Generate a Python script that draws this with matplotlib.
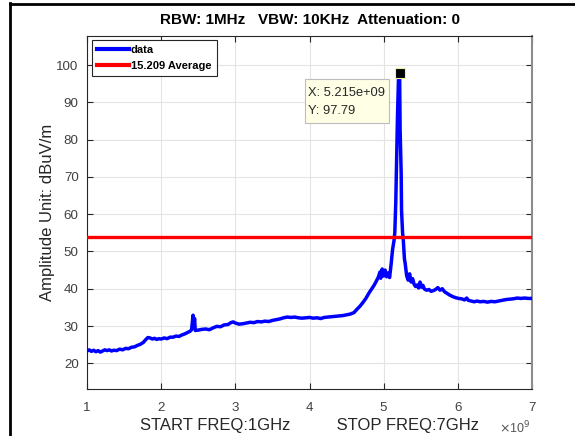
import matplotlib
matplotlib.use("Agg")
import matplotlib.pyplot as plt
from matplotlib.lines import Line2D
from matplotlib.patches import Rectangle

plt.rcParams['font.family'] = ['Liberation Sans', 'DejaVu Sans']

# ---- data (GHz, dBuV/m) ----
freq_ghz = [1.00, 1.03, 1.06, 1.09, 1.12, 1.15, 1.18, 1.21, 1.24, 1.27, 1.30, 1.33, 1.36, 1.40,
            1.44, 1.48, 1.52, 1.56, 1.60, 1.64, 1.68, 1.72, 1.76, 1.79, 1.82, 1.85, 1.88, 1.91,
            1.94, 1.97, 2.00, 2.04, 2.08, 2.12, 2.16, 2.20, 2.24, 2.28, 2.32, 2.36, 2.39, 2.41,
            2.43, 2.44, 2.45, 2.46, 2.50, 2.55, 2.60, 2.65, 2.70, 2.75, 2.80, 2.85, 2.90, 2.94,
            2.97, 3.00, 3.05, 3.10, 3.15, 3.20, 3.25, 3.30, 3.35, 3.40, 3.45, 3.50, 3.55, 3.60,
            3.65, 3.70, 3.75, 3.80, 3.85, 3.90, 3.95, 4.00, 4.05, 4.10, 4.15, 4.20, 4.25, 4.30,
            4.35, 4.40, 4.45, 4.50, 4.55, 4.60, 4.64, 4.68, 4.72, 4.76, 4.80, 4.84, 4.87, 4.90,
            4.93, 4.95, 4.96, 4.98, 5.00, 5.02, 5.04, 5.06, 5.08, 5.10, 5.12, 5.14, 5.15, 5.163,
            5.173, 5.186, 5.20, 5.215, 5.222, 5.236, 5.241, 5.255, 5.265, 5.28, 5.29, 5.31, 5.33,
            5.35, 5.37, 5.39, 5.41, 5.43, 5.45, 5.47, 5.49, 5.51, 5.53, 5.55, 5.58, 5.61, 5.64,
            5.67, 5.70, 5.73, 5.76, 5.79, 5.82, 5.85, 5.89, 5.93, 5.97, 6.01, 6.05, 6.09, 6.12,
            6.14, 6.18, 6.22, 6.26, 6.30, 6.35, 6.40, 6.45, 6.50, 6.55, 6.60, 6.65, 6.70, 6.75,
            6.80, 6.85, 6.90, 6.95, 7.00]
amplitude = [23.3, 23.6, 23.2, 23.5, 23.1, 23.4, 23.0, 23.3, 23.6, 23.4, 23.6, 23.3, 23.5, 23.4,
             23.8, 23.6, 24.0, 23.9, 24.3, 24.4, 24.8, 25.1, 25.6, 26.3, 26.9, 26.8, 26.5, 26.7,
             26.4, 26.6, 26.5, 26.8, 26.6, 27.0, 27.0, 27.3, 27.2, 27.6, 27.9, 28.3, 28.6, 29.0,
             32.9, 29.5, 32.0, 28.8, 28.9, 29.1, 29.2, 29.0, 29.5, 29.9, 29.8, 30.3, 30.4, 30.9,
             31.1, 30.8, 30.5, 30.6, 30.8, 31.0, 30.9, 31.2, 31.1, 31.3, 31.2, 31.5, 31.7, 31.9,
             32.2, 32.4, 32.3, 32.4, 32.2, 32.1, 32.2, 32.3, 32.1, 32.2, 32.0, 32.3, 32.4, 32.5,
             32.6, 32.7, 32.8, 33.0, 33.2, 33.6, 34.5, 35.3, 36.3, 37.4, 38.8, 40.0, 40.9, 42.0,
             43.2, 44.5, 42.8, 45.3, 43.4, 45.0, 43.2, 44.2, 43.0, 46.5, 50.5, 53.0, 55.0, 63.0,
             72.7, 86.0, 96.5, 97.79, 82.5, 71.0, 61.0, 55.0, 53.0, 48.0, 46.8, 43.5, 42.3,
             44.0, 41.8, 42.7, 41.2, 40.6, 41.0, 40.2, 41.8, 40.4, 40.9, 39.9, 39.6, 39.8, 39.3,
             39.5, 39.8, 40.3, 39.6, 40.0, 39.2, 38.8, 38.3, 37.9, 37.6, 37.4, 37.3, 37.0, 37.5,
             36.9, 36.7, 36.5, 36.7, 36.5, 36.6, 36.4, 36.6, 36.5, 36.7, 36.9, 37.1, 37.2, 37.3,
             37.5, 37.4, 37.5, 37.4, 37.4]
limit_value = 54.0
peak_freq = 5.215
peak_value = 97.79
x_ticks = [1, 2, 3, 4, 5, 6, 7]
y_ticks = [20, 30, 40, 50, 60, 70, 80, 90, 100]

W, H = 575, 436
fig = plt.figure(figsize=(W / 100, H / 100), dpi=100)
ax = fig.add_axes([87 / W, 1 - 389 / H, 445 / W, (389 - 36) / H])

ax.plot(freq_ghz, amplitude, color='#0000ff', lw=2.5, label='data', zorder=3)
ax.axhline(limit_value, color='#ff0000', lw=2.4, label='15.209 Average', zorder=3)
ax.plot([peak_freq], [peak_value], marker='s', ms=6.5, mfc='black', mec='#f5f0a0',
        mew=0.8, zorder=5, ls='none')

ax.set_xlim(1, 7)
ax.set_ylim(13.1, 107.8)
ax.set_xticks(x_ticks)
ax.set_yticks(y_ticks)
ax.grid(True, color='#e3e3e3', lw=0.8)
ax.set_axisbelow(True)
ax.tick_params(direction='in', length=4, width=0.8, colors='#262626', labelsize=9.6,
               top=True, right=True)
ax.tick_params(axis='x', pad=9)
ax.tick_params(axis='y', pad=6)
for lbl in ax.get_xticklabels() + ax.get_yticklabels():
    lbl.set_color('#404040')
for s in ['left', 'bottom', 'top']:
    ax.spines[s].set_color('#262626')
    ax.spines[s].set_linewidth(0.8)
ax.spines['right'].set_color('#8c8c8c')
ax.spines['right'].set_linewidth(1.5)

ax.set_title('RBW: 1MHz   VBW: 10KHz  Attenuation: 0', fontsize=11, fontweight='bold',
             pad=9)
ax.set_xlabel('START FREQ:1GHz          STOP FREQ:7GHz', fontsize=12,
              color='#262626')
ax.xaxis.set_label_coords(0.5, -0.082)
ax.set_ylabel('Amplitude Unit: dBuV/m', fontsize=12, color='#262626')
ax.yaxis.set_label_coords(-0.073, 0.5)

leg = ax.legend(loc='upper left', bbox_to_anchor=(0.011, 0.99), borderaxespad=0,
                fancybox=False, edgecolor='#262626', framealpha=1,
                prop={'size': 8, 'weight': 'bold'}, handlelength=2.8, handletextpad=0.2,
                borderpad=0.5, labelspacing=0.5)
leg.get_frame().set_linewidth(0.8)
for h in leg.legend_handles:
    h.set_linewidth(3)

# data tip box
tip = Rectangle((305 / W, 1 - 123 / H), 84 / W, 44 / H, transform=fig.transFigure,
                facecolor='#ffffe6', edgecolor='#bdbdbd', lw=0.8, zorder=10)
fig.patches.append(tip)
fig.text(308 / W, 1 - 93 / H, 'X: 5.215e+09', fontsize=9.3, color='#262626',
         va='center', ha='left', zorder=11)
fig.text(308 / W, 1 - 111 / H, 'Y: 97.79', fontsize=9.3, color='#262626',
         va='center', ha='left', zorder=11)

# offset text
fig.text(499 / W, 1 - 428 / H, r'$\times$10$^{9}$', fontsize=9, color='#555555',
         ha='left', va='center')

# window frame lines
fig.add_artist(Line2D([10 / W, 10 / W], [0, 1 - 3 / H], transform=fig.transFigure,
                      color='black', lw=2))
fig.add_artist(Line2D([10 / W, 1], [1 - 4 / H, 1 - 4 / H], transform=fig.transFigure,
                      color='black', lw=2))

fig.savefig('out.png', dpi=100)
